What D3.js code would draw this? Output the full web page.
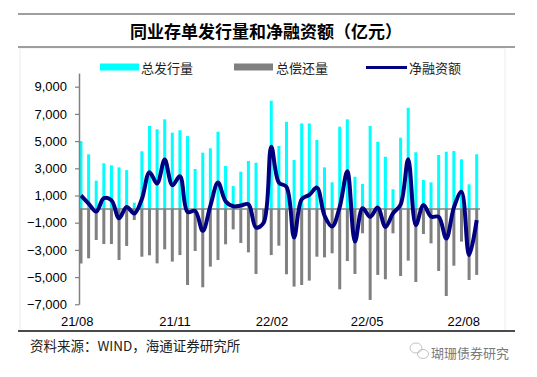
<!DOCTYPE html>
<html>
<head>
<meta charset="utf-8">
<script src="https://cdn.jsdelivr.net/npm/d3@7"></script>
<style>
  body { margin: 0; background: #fff; }
  svg { display: block; }
</style>
</head>
<body>
<div id="chart"></div>
<script>
// weekly data, Aug 2021 - Aug 2022 (亿元)
const issue = [5000, 4030, 2090, 3370, 3220, 3070, 2870, 470, 4250, 6110,
               5870, 6600, 5620, 5800, 5370, 2950, 4150, 4470, 5690, 3170,
               1700, 2750, 3540, 3410, 0, 7970, 4640, 6420, 3610, 6300,
               6300, 5080, 3070, 1970, 6060, 6600, 2380, 1850, 6110, 4950,
               3850, 1460, 5250, 7450, 4180, 2140, 1970, 3980, 4220, 4270,
               3660, 1820, 4030];
const repay = [-4000, -3620, -2270, -2570, -2570, -3740, -2710, -800, -3500, -3400,
               -3990, -2960, -3860, -3380, -5580, -3080, -5750, -4230, -3740, -2590,
               -1490, -2490, -3180, -4770, -1000, -3380, -2690, -4790, -5700, -5580,
               -5260, -3500, -3550, -3250, -5900, -3820, -4770, -1780, -6680, -4840,
               -5160, -1780, -4920, -3790, -5360, -1830, -2520, -4550, -6390, -4160,
               -2390, -5210, -4840];
const net = [1000, 410, -180, 800, 650, -670, 160, -330, 750, 2710,
             1880, 3640, 1760, 2420, -210, -130, -1600, 240, 1950, 580,
             210, 260, 360, -1360, -1000, 4590, 1950, 1630, -2090, 720,
             1040, 1580, -480, -1280, 160, 2780, -2390, 70, -570, 110,
             -1310, -320, 330, 3660, -1180, 310, -550, -570, -2170, 110,
             1270, -3390, -810];
const xTickLabels = ["21/08", "21/11", "22/02", "22/05", "22/08"];
const xTickIdx = [-0.5, 12.35, 25.1, 37.6, 50.3];
const yTicks = [-7000, -5000, -3000, -1000, 1000, 3000, 5000, 7000, 9000];
const legendItems = ["总发行量", "总偿还量", "净融资额"];

const width = 537, height = 377;
const svg = d3.select("#chart").append("svg")
    .attr("width", width)
    .attr("height", height);

const x = d3.scaleLinear().domain([0, issue.length - 1]).range([81, 476.7]);
const y = d3.scaleLinear().domain([-7000, 10000]).range([304.3, 73.1]);

// faint frame of the chart area
svg.append("rect")
    .attr("x", 20).attr("y", 48)
    .attr("width", 485).attr("height", 283)
    .attr("fill", "none")
    .attr("stroke", "#ececec")
    .attr("stroke-width", 1);

// title rules and title
svg.append("line")
    .attr("x1", 18).attr("x2", 515).attr("y1", 14).attr("y2", 14)
    .attr("stroke", "#7f7f7f").attr("stroke-width", 1.6);
svg.append("line")
    .attr("x1", 18).attr("x2", 515).attr("y1", 47).attr("y2", 47)
    .attr("stroke", "#7f7f7f").attr("stroke-width", 1.6);
svg.append("text")
    .attr("x", 266).attr("y", 38)
    .attr("text-anchor", "middle")
    .style("font-family", "'Noto Sans CJK SC', sans-serif")
    .style("font-weight", "bold")
    .style("font-size", "17px")
    .attr("fill", "#000")
    .text("同业存单发行量和净融资额（亿元）");

// legend
const legend = svg.append("g");
legend.append("rect").attr("x", 100).attr("y", 63.5).attr("width", 39).attr("height", 7).attr("fill", "#00ffff");
legend.append("rect").attr("x", 234).attr("y", 63.5).attr("width", 39).attr("height", 7).attr("fill", "#808080");
legend.append("line").attr("x1", 366).attr("x2", 407).attr("y1", 67.5).attr("y2", 67.5)
    .attr("stroke", "#000080").attr("stroke-width", 3);
legend.selectAll("text")
    .data(legendItems)
    .enter().append("text")
    .attr("x", (d, i) => [141, 276, 409][i])
    .attr("y", 72.5)
    .style("font-family", "'Noto Sans CJK SC', sans-serif")
    .style("font-size", "13px")
    .attr("fill", "#222")
    .text(d => d);

// bars
const barW = 3;
svg.append("g").selectAll("rect")
    .data(issue)
    .enter().append("rect")
    .attr("x", (d, i) => x(i) - barW / 2)
    .attr("y", d => y(Math.max(0, d)))
    .attr("width", barW)
    .attr("height", d => Math.abs(y(d) - y(0)))
    .attr("fill", "#00ffff");
svg.append("g").selectAll("rect")
    .data(repay)
    .enter().append("rect")
    .attr("x", (d, i) => x(i) - barW / 2)
    .attr("y", d => y(Math.max(0, d)))
    .attr("width", barW)
    .attr("height", d => Math.abs(y(d) - y(0)))
    .attr("fill", "#808080");

// zero line
svg.append("line")
    .attr("x1", 79).attr("x2", 480)
    .attr("y1", y(0)).attr("y2", y(0))
    .attr("stroke", "#808080").attr("stroke-width", 1.5);

// net financing line
const line = d3.line()
    .x((d, i) => x(i))
    .y(d => y(d))
    .curve(d3.curveCatmullRom.alpha(0.5));
svg.append("path")
    .datum(net)
    .attr("d", line)
    .attr("fill", "none")
    .attr("stroke", "#000080")
    .attr("stroke-width", 4)
    .attr("stroke-linejoin", "round");

// y axis
const yAxis = svg.append("g")
    .attr("transform", "translate(79,0)")
    .call(d3.axisLeft(y)
        .tickValues(yTicks)
        .tickFormat(d3.format(","))
        .tickSize(4)
        .tickSizeOuter(0)
        .tickPadding(8));
yAxis.select(".domain").attr("stroke", "#808080").attr("stroke-width", 1.5);
yAxis.selectAll(".tick line").attr("stroke", "#808080").attr("stroke-width", 1.2);
yAxis.selectAll(".tick text")
    .style("font-family", "'Liberation Sans', Arial, sans-serif")
    .style("font-size", "13px")
    .attr("fill", "#000");

// x labels
svg.append("g").selectAll("text")
    .data(xTickLabels)
    .enter().append("text")
    .attr("x", (d, i) => x(xTickIdx[i]))
    .attr("y", 325.5)
    .attr("text-anchor", "middle")
    .style("font-family", "'Liberation Sans', Arial, sans-serif")
    .style("font-size", "13px")
    .attr("fill", "#000")
    .text(d => d);

// bottom rule and source
svg.append("line")
    .attr("x1", 18).attr("x2", 515).attr("y1", 331).attr("y2", 331)
    .attr("stroke", "#111").attr("stroke-width", 1.5);
svg.append("text")
    .attr("x", 30).attr("y", 351)
    .style("font-family", "'Noto Sans CJK SC', sans-serif")
    .style("font-size", "13.5px")
    .attr("fill", "#222")
    .text("资料来源：WIND，海通证券研究所");

// watermark
const wm = svg.append("g").attr("fill", "none").attr("stroke", "#b5b5b5").attr("stroke-width", 0.8);
wm.append("ellipse").attr("cx", 416).attr("cy", 348).attr("rx", 6).attr("ry", 5);
wm.append("ellipse").attr("cx", 423).attr("cy", 354).attr("rx", 5.5).attr("ry", 4.5);
svg.append("text")
    .attr("x", 431).attr("y", 357.5)
    .style("font-family", "'Noto Sans CJK SC', sans-serif")
    .style("font-size", "13px")
    .attr("fill", "#7a7a7a")
    .text("瑚珊债券研究");
</script>
</body>
</html>
